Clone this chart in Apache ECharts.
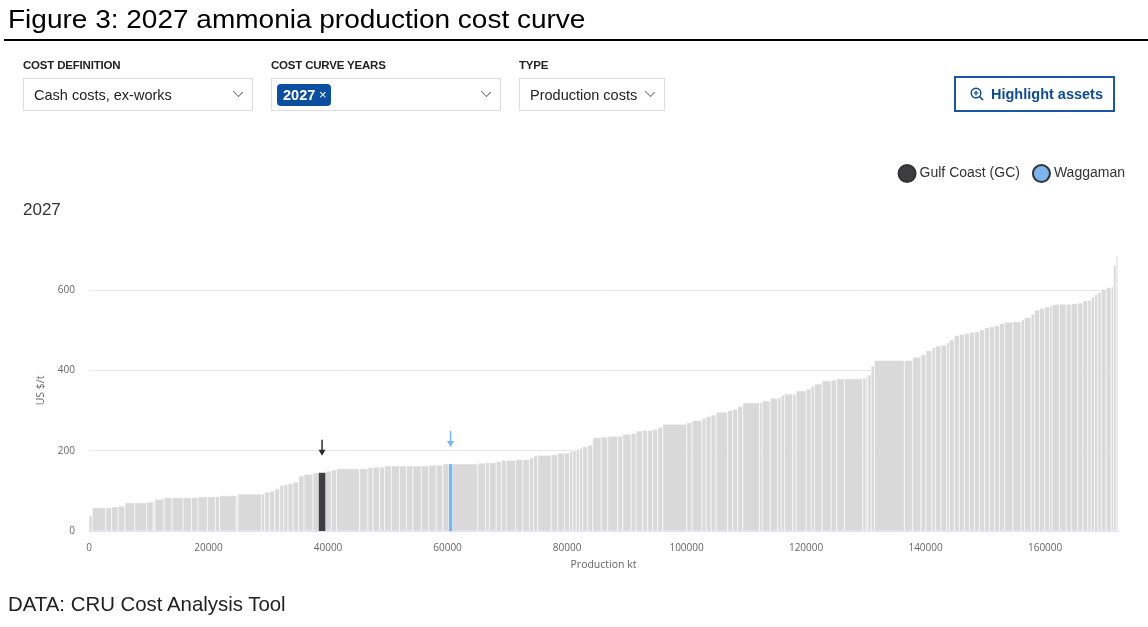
<!DOCTYPE html>
<html>
<head>
<meta charset="utf-8">
<script src="https://cdn.jsdelivr.net/npm/echarts@6/dist/echarts.min.js"></script>
<style>
  html, body { margin: 0; padding: 0; background: #fff; }
  body { width: 1148px; height: 627px; position: relative; overflow: hidden; font-family: "Liberation Sans", Arial, sans-serif; }
  #chart { position: absolute; left: 0; top: 0; width: 1148px; height: 627px; }
  .abs { position: absolute; }
  .title { left: 8px; top: 5px; font-size: 25px; line-height: 29px; color: #000; white-space: nowrap; transform: scaleX(1.12); transform-origin: 0 0; }
  .rule { left: 4px; top: 39px; width: 1144px; height: 2px; background: #000; }
  .lbl { top: 59px; font-size: 11.5px; font-weight: bold; color: #222; letter-spacing: -0.2px; }
  .box { top: 78px; height: 33px; border: 1px solid #dcdcdc; box-sizing: border-box; font-size: 14.5px; color: #222; }
  .box .txt { position: absolute; left: 10px; top: 8px; white-space: nowrap; }
  .chev { position: absolute; top: 9px; width: 7px; height: 7px; border-right: 1px solid #666; border-bottom: 1px solid #666; transform: rotate(45deg) scaleY(0.8); }
  .chip { position: absolute; left: 5px; top: 5px; height: 22px; width: 54px; border-radius: 4px; background: #0b4f9e; color: #fff; font-weight: bold; font-size: 14.5px; }
  .chip span { position: absolute; left: 6px; top: 3px; }
  .chip i { position: absolute; left: 42px; top: 3px; font-style: normal; font-weight: normal; font-size: 13px; }
  .btn { left: 954px; top: 76px; width: 161px; height: 36px; border: 2px solid #1a57a3; box-sizing: border-box; color: #0e4b95; font-weight: bold; font-size: 14.5px; }
  .btn .txt { position: absolute; left: 35px; top: 8px; white-space: nowrap; }
  .btn svg { position: absolute; left: 14px; top: 9px; }
  .foot { left: 8px; top: 593px; font-size: 20.4px; color: #222; white-space: nowrap; }
</style>
</head>
<body>
<div id="chart"></div>

<div class="abs title">Figure 3: 2027 ammonia production cost curve</div>
<div class="abs rule"></div>

<div class="abs lbl" style="left:23px">COST DEFINITION</div>
<div class="abs lbl" style="left:271px">COST CURVE YEARS</div>
<div class="abs lbl" style="left:519px">TYPE</div>

<div class="abs box" style="left:23px;width:230px"><span class="txt">Cash costs, ex-works</span><span class="chev" style="left:210px"></span></div>
<div class="abs box" style="left:271px;width:230px"><div class="chip"><span>2027</span><i>×</i></div><span class="chev" style="left:210px"></span></div>
<div class="abs box" style="left:519px;width:146px"><span class="txt">Production costs</span><span class="chev" style="left:126px"></span></div>

<div class="abs btn">
  <svg width="14" height="14" viewBox="0 0 14 14"><circle cx="6" cy="6" r="4.8" fill="none" stroke="#0e4b95" stroke-width="1.4"/><line x1="9.5" y1="9.5" x2="13" y2="13" stroke="#0e4b95" stroke-width="1.6"/><line x1="3.6" y1="6" x2="8.4" y2="6" stroke="#0e4b95" stroke-width="1.2"/><line x1="6" y1="3.6" x2="6" y2="8.4" stroke="#0e4b95" stroke-width="1.2"/></svg>
  <span class="txt">Highlight assets</span>
</div>

<div class="abs foot">DATA: CRU Cost Analysis Tool</div>

<script>
// production per asset, kt (in cost order)
const widths = [
  550, 2240, 1000, 1100, 1120, 1670, 1960, 1100, 280, 1550,
  1340, 1840, 1400, 1100, 1570, 1340, 720, 2790, 270, 3910,
  550, 840, 840, 840, 670, 720, 840, 950, 890, 1500,
  950, 1120, 1000, 840, 3890, 1390, 840, 1120, 840, 1120,
  1390, 1120, 1100, 1400, 1270, 1240, 1100, 1000, 570, 4280,
  1290, 670, 1120, 840, 840, 1550, 1220, 1120, 670, 720,
  2240, 1100, 1120, 840, 550, 570, 550, 550, 840, 840,
  1400, 1100, 1670, 840, 1400, 840, 1100, 840, 840, 840,
  840, 4010, 900, 1670, 670, 840, 840, 1940, 840, 840,
  840, 2790, 450, 1340, 1270, 570, 550, 1390, 570, 1670,
  840, 550, 1290, 1500, 940, 1290, 3060, 570, 270, 570,
  550, 5010, 1390, 1400, 840, 1000, 550, 950, 940, 450,
  840, 840, 840, 840, 840, 840, 840, 840, 840, 840,
  840, 1390, 1400, 550, 1120, 550, 840, 840, 840, 450,
  1220, 1120, 840, 1100, 840, 840, 570, 550, 550, 570,
  840, 840, 380, 450, 270
];

// cash cost, US$/t
const costs = [
  38, 58, 58, 60, 62, 70, 70, 72, 74, 79,
  83, 83, 83, 83, 85, 85, 86, 88, 89, 92,
  92, 97, 99, 105, 113, 115, 118, 122, 137, 141,
  145, 145, 149, 152, 155, 155, 158, 159, 159, 162,
  162, 162, 162, 162, 162, 164, 164, 167, 167, 167,
  169, 170, 170, 173, 176, 176, 178, 178, 182, 187,
  189, 190, 194, 194, 198, 200, 203, 206, 210, 214,
  232, 234, 236, 236, 241, 243, 249, 251, 251, 253,
  258, 266, 270, 275, 281, 285, 289, 296, 300, 303,
  310, 319, 320, 324, 331, 332, 338, 341, 341, 349,
  353, 360, 366, 374, 376, 379, 379, 381, 385, 389,
  411, 425, 425, 433, 439, 449, 457, 461, 463, 469,
  476, 487, 490, 492, 495, 496, 501, 506, 509, 511,
  517, 520, 521, 526, 532, 540, 550, 554, 558, 560,
  564, 565, 565, 566, 568, 573, 575, 583, 589, 594,
  602, 606, 608, 662, 685
];

// highlighted assets
const highlightNames = ['Gulf Coast (GC)', 'Waggaman'];
const highlightIndex = [31, 48];
const highlightColors = ['#3d3d42', '#7cb5ec'];
const arrowColors = ['#2b2b30', '#7cb5ec'];

const xTicks = { min: 0, max: 172200, interval: 20000 };
const yTicks = { min: 0, max: 700, interval: 200 };

// cumulative start/end for each asset
let acc = 0;
const bars = widths.map((w, i) => {
  const row = [acc, acc + w, costs[i]];
  acc += w;
  return row;
});

const chart = echarts.init(document.getElementById('chart'));
const axisFont = '"Open Sans", "DejaVu Sans", sans-serif';

function barRect(api, fill) {
  const s = api.coord([api.value(0), 0]);
  const e = api.coord([api.value(1), api.value(2)]);
  return {
    type: 'rect',
    shape: { x: s[0], y: e[1], width: e[0] - s[0], height: s[1] - e[1] },
    style: { fill: fill, stroke: '#ffffff', lineWidth: 0.6 }
  };
}

const series = [{
  name: 'All assets',
  type: 'custom',
  silent: true,
  encode: { x: [0, 1], y: 2 },
  data: bars,
  renderItem: (params, api) => barRect(api, '#d9d9d9')
}];

highlightNames.forEach((name, k) => {
  series.push({
    name: name,
    type: 'custom',
    silent: true,
    itemStyle: { color: highlightColors[k], borderColor: '#333', borderWidth: 1 },
    encode: { x: [0, 1], y: 2 },
    data: [bars[highlightIndex[k]]],
    renderItem: (params, api) => {
      const rect = barRect(api, highlightColors[k]);
      rect.style.stroke = null;
      const top = api.coord([api.value(0), api.value(2)]);
      const end = api.coord([api.value(1), api.value(2)]);
      const cx = (top[0] + end[0]) / 2;
      const y0 = top[1] - 33, y1 = top[1] - 17;
      return {
        type: 'group',
        children: [
          rect,
          { type: 'line', shape: { x1: cx, y1: y0, x2: cx, y2: y1 - 4 }, style: { stroke: arrowColors[k], lineWidth: 1.5 } },
          { type: 'polygon', shape: { points: [[cx - 3.5, y1 - 6], [cx + 3.5, y1 - 6], [cx, y1]] }, style: { fill: arrowColors[k] } }
        ]
      };
    }
  });
});

chart.setOption({
  animation: false,
  textStyle: { fontFamily: axisFont },
  title: {
    text: '2027',
    left: 18, top: 197,
    textStyle: { fontFamily: '"Liberation Sans", Arial, sans-serif', fontSize: 17, fontWeight: 'normal', color: '#333' }
  },
  legend: {
    right: 18, top: 159,
    data: highlightNames,
    icon: 'circle',
    itemWidth: 17, itemHeight: 17,
    itemGap: 12,
    textStyle: { fontFamily: '"Liberation Sans", Arial, sans-serif', fontSize: 14, color: '#333', padding: [0, 0, 0, -1] },
    selectedMode: false
  },
  grid: { left: 89, right: 30, top: 250, bottom: 96, containLabel: false },
  xAxis: {
    type: 'value',
    min: xTicks.min, max: xTicks.max, interval: xTicks.interval,
    name: 'Production kt',
    nameLocation: 'middle',
    nameGap: 29,
    nameTextStyle: { color: '#666', fontSize: 10.5 },
    axisLine: { lineStyle: { color: '#ccd6eb' } },
    axisTick: { show: false },
    splitLine: { show: false },
    axisLabel: { color: '#666', fontSize: 10, margin: 12, showMaxLabel: false, formatter: v => String(v) }
  },
  yAxis: {
    type: 'value',
    min: yTicks.min, max: yTicks.max, interval: yTicks.interval,
    name: 'US $/t',
    nameLocation: 'middle',
    nameGap: 41,
    nameTextStyle: { color: '#666', fontSize: 10.5 },
    axisLine: { show: false },
    axisTick: { show: false },
    splitLine: { showMaxLine: false, lineStyle: { color: '#e6e6e6' } },
    axisLabel: { color: '#666', fontSize: 10, margin: 14, showMaxLabel: false }
  },
  series: series
});
</script>
</body>
</html>
